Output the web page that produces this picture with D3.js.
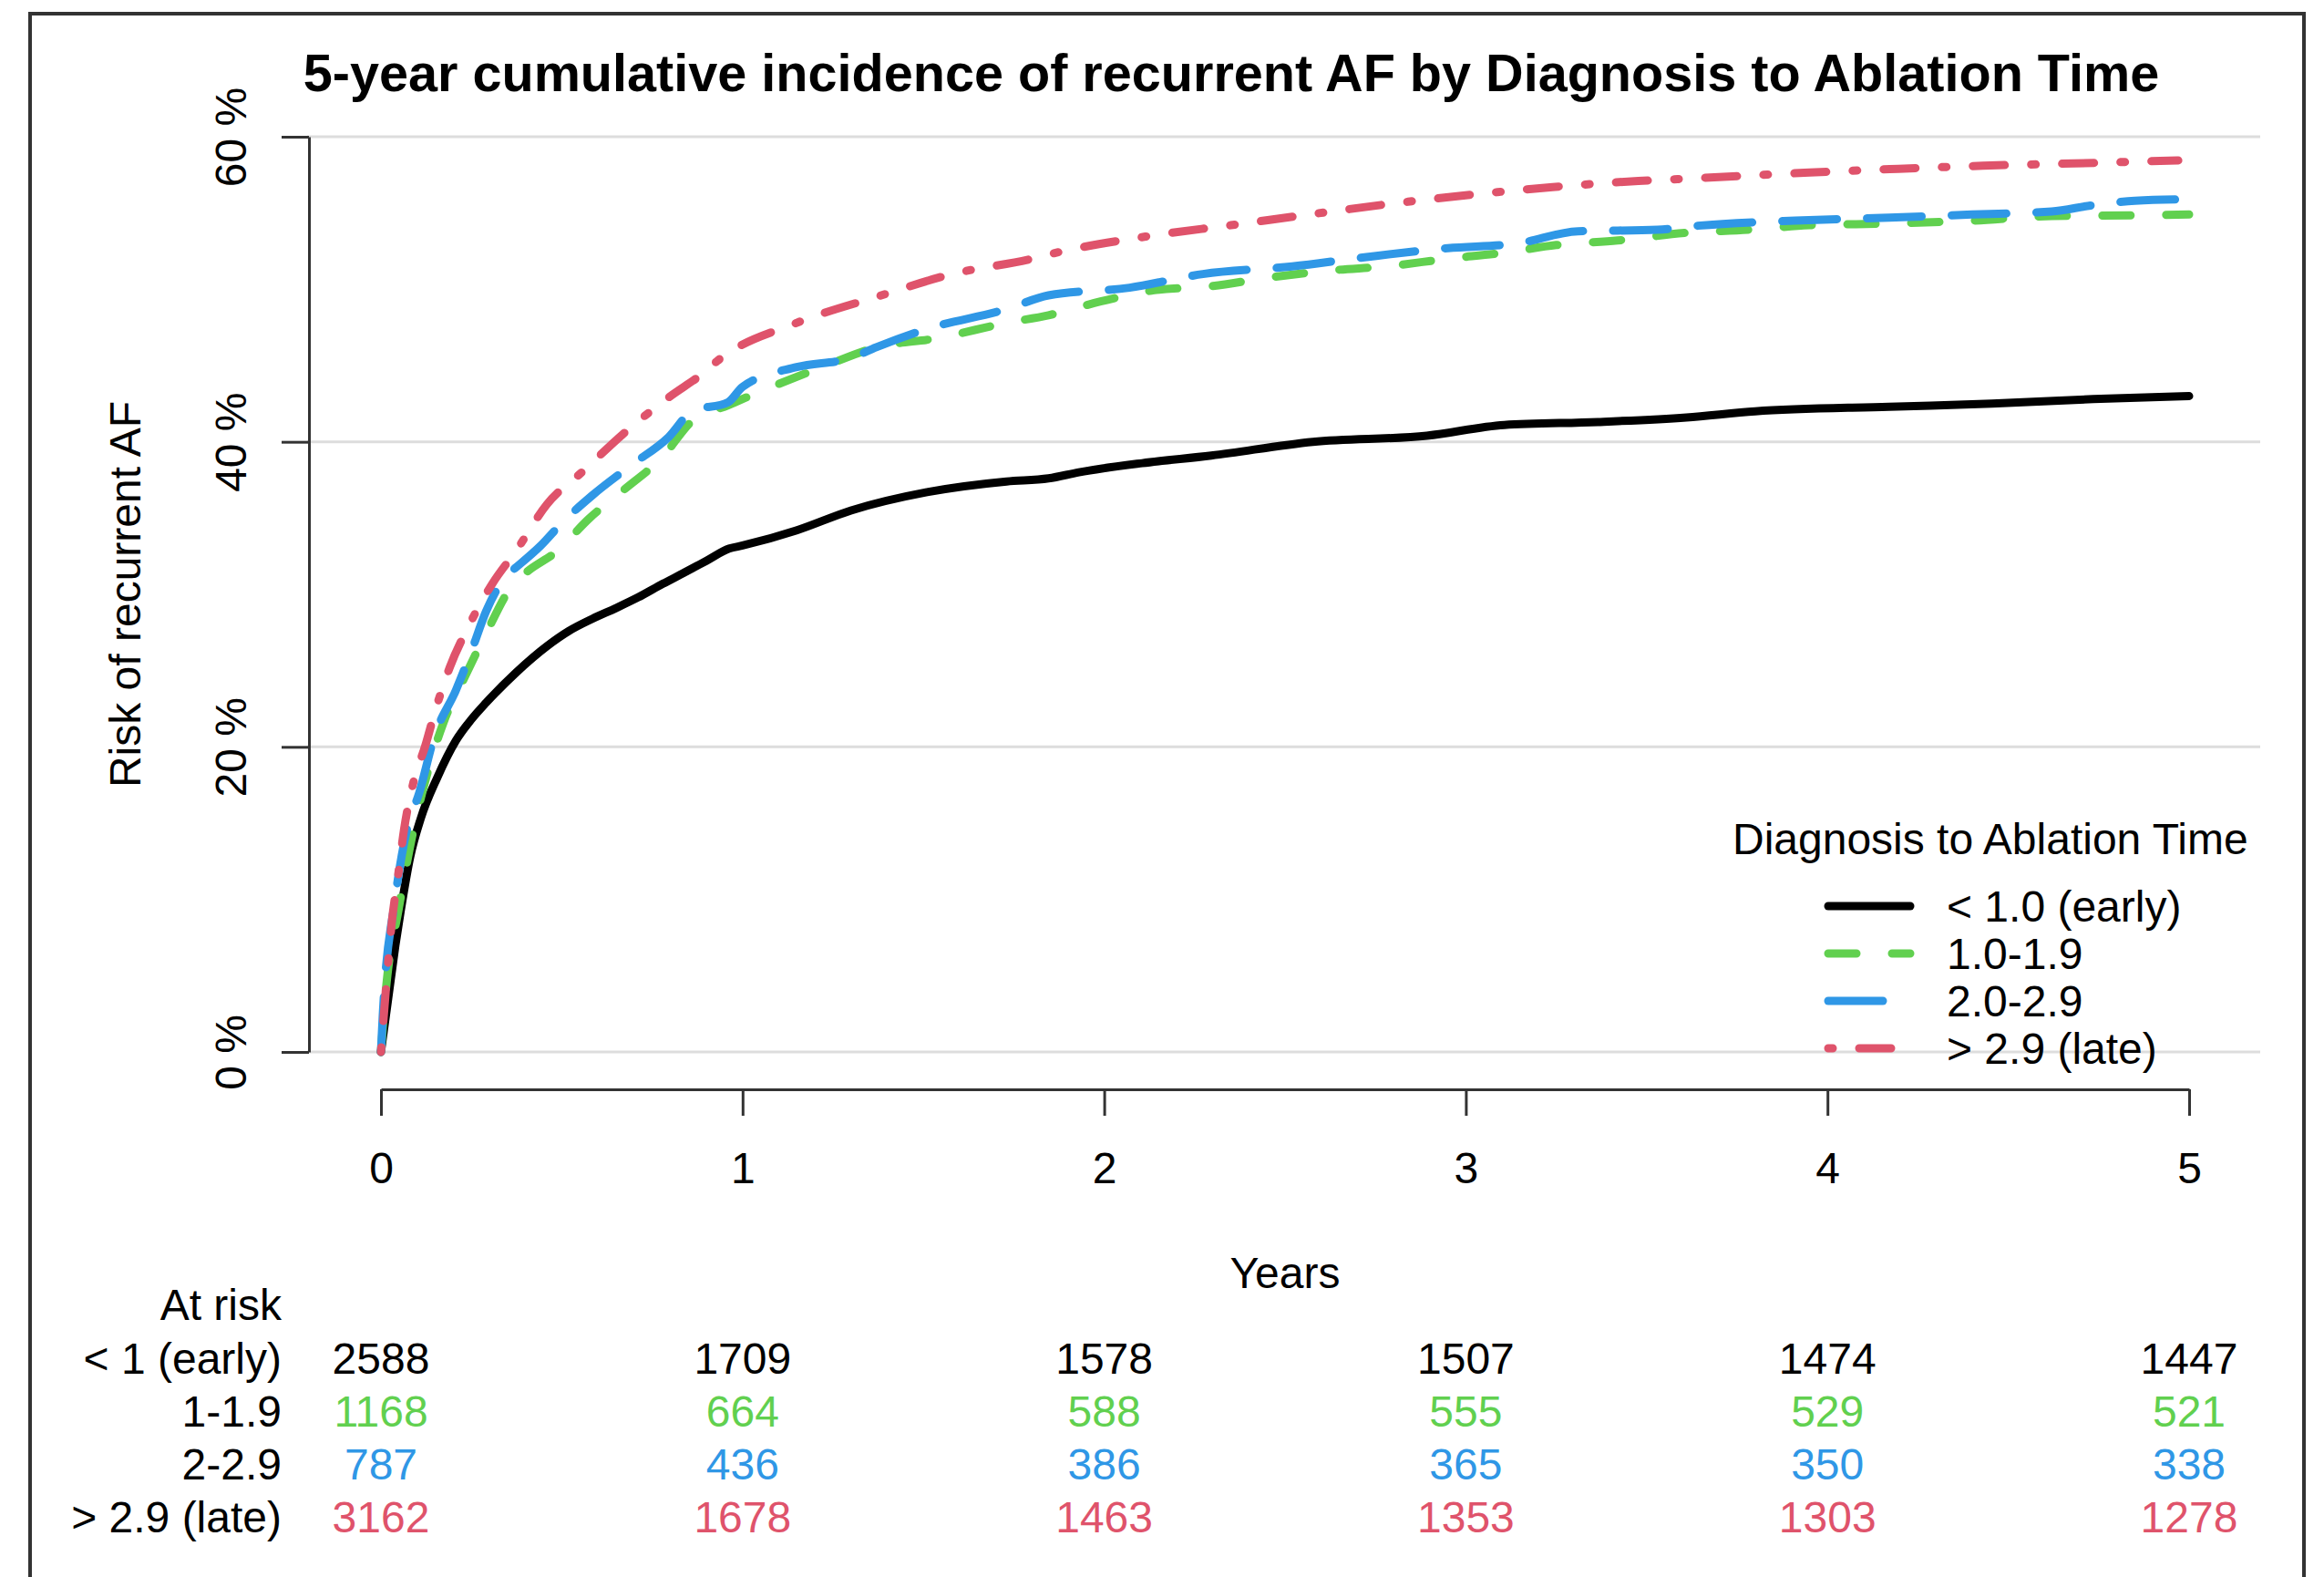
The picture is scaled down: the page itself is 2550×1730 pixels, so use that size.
<!DOCTYPE html>
<html>
<head>
<meta charset="utf-8">
<script src="https://cdn.jsdelivr.net/npm/d3@7"></script>
<style>
  body { margin: 0; background: #fff; }
  text { font-family: "Liberation Sans", Arial, Helvetica, sans-serif; fill: #000; }
</style>
</head>
<body>
<div id="chart"></div>
<script>
// ---- data (time in years, cumulative incidence in %) ----
const groupNames = ["< 1.0 (early)", "1.0-1.9", "2.0-2.9", "> 2.9 (late)"];

const earlyCurve = [[0,0],[0.02,3.5],[0.04,7],[0.055,9.3],[0.081,12.8],[0.11,15.3],[0.156,18.0],[0.207,20.4],
  [0.25,21.8],[0.291,22.9],[0.375,24.9],[0.459,26.6],[0.52,27.6],[0.585,28.4],[0.65,29.1],[0.711,29.8],
  [0.78,30.7],[0.837,31.4],[0.9,32.2],[0.963,33.0],[1.0,33.2],[1.15,34.2],[1.3,35.5],[1.51,36.7],[1.73,37.4],
  [1.846,37.6],[1.93,38.0],[2.105,38.6],[2.296,39.1],[2.577,40.0],[2.892,40.4],[3.106,41.1],[3.365,41.3],
  [3.61,41.6],[3.80,42.0],[4.17,42.3],[4.455,42.5],[4.735,42.8],[5.0,43.0]];

const midCurve = [[0,0],[0.013,3.9],[0.05,9.5],[0.094,15.0],[0.131,18.5],[0.173,21.6],[0.224,24.2],[0.29,27.4],
  [0.358,30.4],[0.40,31.4],[0.485,32.8],[0.577,35.0],[0.669,36.8],[0.778,39.0],[0.862,41.4],[0.96,42.4],
  [1.08,43.6],[1.22,44.9],[1.37,46.2],[1.54,46.8],[1.73,47.8],[1.846,48.3],[1.99,49.2],[2.127,49.9],
  [2.296,50.2],[2.465,50.8],[2.634,51.25],[2.78,51.5],[2.95,52.0],[3.106,52.4],[3.25,52.9],[3.42,53.2],
  [3.61,53.7],[3.78,53.9],[3.95,54.2],[4.15,54.3],[4.40,54.5],[4.62,54.8],[4.85,54.85],[5.0,54.9]];

const midLateCurve = [[0,0],[0.005,2.4],[0.039,10],[0.072,14.6],[0.106,17.0],[0.148,20.7],[0.207,23.7],
  [0.249,26.2],[0.291,28.9],[0.35,31.3],[0.37,31.7],[0.442,33.2],[0.501,34.7],[0.585,36.5],[0.694,38.5],
  [0.795,40.3],[0.86,42.0],[0.96,42.6],[1.0,43.6],[1.15,44.9],[1.3,45.5],[1.37,46.2],[1.51,47.4],[1.73,48.7],
  [1.846,49.6],[2.07,50.1],[2.273,51.0],[2.52,51.5],[2.72,52.1],[2.95,52.7],[3.14,53.0],[3.31,53.8],
  [3.53,53.9],[3.61,54.1],[3.91,54.5],[4.17,54.7],[4.40,54.9],[4.62,55.1],[4.73,55.5],[4.85,55.8],[5.0,55.9]];

const lateCurve = [[0,0],[0.013,3.9],[0.03,8.5],[0.047,11.5],[0.064,14.6],[0.089,17.6],[0.123,20.1],
  [0.148,22.2],[0.19,25.2],[0.24,27.8],[0.308,30.7],[0.375,32.9],[0.459,35.9],[0.56,38.1],[0.669,40.5],
  [0.795,42.9],[0.896,44.6],[0.93,45.3],[1.15,47.8],[1.37,49.5],[1.58,51.0],[1.80,52.0],[1.868,52.4],
  [2.127,53.5],[2.35,54.2],[2.566,54.9],[2.791,55.6],[3.016,56.2],[3.24,56.7],[3.477,57.1],[3.61,57.25],
  [3.95,57.65],[4.196,57.9],[4.43,58.1],[4.68,58.25],[4.97,58.45]];

const xTicks = [0, 1, 2, 3, 4, 5];
const yTicks = [0, 20, 40, 60];

const riskLabels = ["< 1 (early)", "1-1.9", "2-2.9", "> 2.9 (late)"];
const riskEarly   = [2588, 1709, 1578, 1507, 1474, 1447];
const riskMid     = [1168, 664, 588, 555, 529, 521];
const riskMidLate = [787, 436, 386, 365, 350, 338];
const riskLate    = [3162, 1678, 1463, 1353, 1303, 1278];

// ---- styles ----
const colors = ["#000000", "#61D04F", "#2f97e6", "#DF536B"];
const dashes = [null, "31 39", "60 33", "5 29 35 29"];

const curves = [earlyCurve, midCurve, midLateCurve, lateCurve];
const riskRows = [riskEarly, riskMid, riskMidLate, riskLate];

const width = 2550, height = 1730;

const svg = d3.select("#chart").append("svg")
    .attr("width", width)
    .attr("height", height);

svg.append("rect").attr("width", width).attr("height", height).attr("fill", "#fff");

// outer frame
svg.append("rect")
    .attr("x", 33).attr("y", 15)
    .attr("width", 2495).attr("height", 1760)
    .attr("fill", "none")
    .attr("stroke", "#333")
    .attr("stroke-width", 4);

const x = d3.scaleLinear().domain([0, 5]).range([418, 2402]);
const y = d3.scaleLinear().domain([0, 60]).range([1154, 150]);

// grid lines
svg.append("g")
  .selectAll("line")
  .data(yTicks)
  .enter().append("line")
    .attr("x1", 337).attr("x2", 2480)
    .attr("y1", d => y(d)).attr("y2", d => y(d))
    .attr("stroke", "#dddddd")
    .attr("stroke-width", 3);

// y axis
const yAxis = svg.append("g")
    .attr("transform", "translate(339,0)")
    .call(d3.axisLeft(y).tickValues(yTicks).tickSize(30).tickSizeOuter(0).tickFormat(d => d + " %"));
yAxis.select(".domain").attr("stroke", "#333").attr("stroke-width", 3);
yAxis.selectAll(".tick line").attr("stroke", "#333").attr("stroke-width", 3);
yAxis.selectAll(".tick text")
    .attr("x", null).attr("dy", null)
    .attr("transform", "translate(-69,0) rotate(-90)")
    .attr("text-anchor", "middle")
    .style("font-size", "48px")
    .style("font-family", "'Liberation Sans', Arial, sans-serif")
    .attr("fill", "#000");

// x axis
const xAxis = svg.append("g")
    .attr("transform", "translate(0,1195)")
    .call(d3.axisBottom(x).tickValues(xTicks).tickSize(29).tickSizeOuter(0).tickFormat(d3.format("d")));
xAxis.select(".domain").attr("stroke", "#333").attr("stroke-width", 3);
xAxis.selectAll(".tick line").attr("stroke", "#333").attr("stroke-width", 3);
xAxis.selectAll(".tick text")
    .attr("y", 103).attr("dy", null)
    .style("font-size", "48px")
    .style("font-family", "'Liberation Sans', Arial, sans-serif")
    .attr("fill", "#000");

// axis titles
svg.append("text")
    .attr("transform", "translate(154,652) rotate(-90)")
    .attr("text-anchor", "middle")
    .style("font-size", "48px")
    .text("Risk of recurrent AF");

svg.append("text")
    .attr("x", 1410).attr("y", 1413)
    .attr("text-anchor", "middle")
    .style("font-size", "48px")
    .text("Years");

// title
svg.append("text")
    .attr("x", 1351).attr("y", 100)
    .attr("text-anchor", "middle")
    .style("font-size", "57.6px")
    .style("font-weight", "bold")
    .text("5-year cumulative incidence of recurrent AF by Diagnosis to Ablation Time");

// curves
const line = d3.line()
    .curve(d3.curveMonotoneX)
    .x(d => x(d[0]))
    .y(d => y(d[1]));

curves.forEach((c, i) => {
    svg.append("path")
        .datum(c)
        .attr("d", line)
        .attr("fill", "none")
        .attr("stroke", colors[i])
        .attr("stroke-width", 9)
        .attr("stroke-linecap", "round")
        .attr("stroke-linejoin", "round")
        .attr("stroke-dasharray", dashes[i]);
});

// legend
const legend = svg.append("g");
legend.append("text")
    .attr("x", 1901).attr("y", 937)
    .style("font-size", "48px")
    .text("Diagnosis to Ablation Time");

groupNames.forEach((name, i) => {
    const ly = 994 + i * 52;
    legend.append("line")
        .attr("x1", 2006).attr("x2", 2096)
        .attr("y1", ly).attr("y2", ly)
        .attr("stroke", colors[i])
        .attr("stroke-width", 9)
        .attr("stroke-linecap", "round")
        .attr("stroke-dasharray", dashes[i]);
    legend.append("text")
        .attr("x", 2136).attr("y", ly + 17)
        .style("font-size", "48px")
        .text(name);
});

// at-risk table
svg.append("text")
    .attr("x", 309).attr("y", 1448)
    .attr("text-anchor", "end")
    .style("font-size", "48px")
    .text("At risk");

riskRows.forEach((row, i) => {
    const by = 1507 + i * 58;
    svg.append("text")
        .attr("x", 309).attr("y", by)
        .attr("text-anchor", "end")
        .style("font-size", "48px")
        .text(riskLabels[i]);

    svg.append("g")
      .selectAll("text")
      .data(row)
      .enter().append("text")
        .attr("x", (d, j) => x(xTicks[j]))
        .attr("y", by)
        .attr("text-anchor", "middle")
        .style("font-size", "48px")
        .style("fill", colors[i])
        .text(d => d);
});
</script>
</body>
</html>
